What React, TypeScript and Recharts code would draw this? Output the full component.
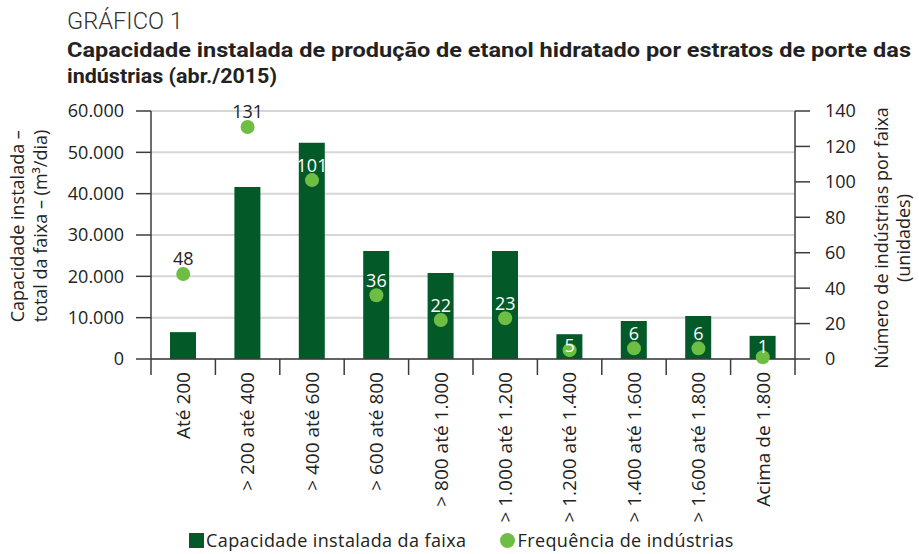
import React from "react";
import {
  ComposedChart,
  Bar,
  Line,
  XAxis,
  YAxis,
  CartesianGrid,
  LabelList,
} from "recharts";

const categories = [
  "Até 200",
  "> 200 até 400",
  "> 400 até 600",
  "> 600 até 800",
  "> 800 até 1.000",
  "> 1.000 até 1.200",
  "> 1.200 até 1.400",
  "> 1.400 até 1.600",
  "> 1.600 até 1.800",
  "Acima de 1.800",
];
const capacidade = [6500, 41600, 52300, 26100, 20800, 26100, 6000, 9200, 10400, 5600];
const frequencia = [48, 131, 101, 36, 22, 23, 5, 6, 6, 1];
const leftTicks = [0, 10000, 20000, 30000, 40000, 50000, 60000];
const rightTicks = [0, 20, 40, 60, 80, 100, 120, 140];

const data = categories.map((c, i) => ({
  faixa: c,
  capacidade: capacidade[i],
  frequencia: frequencia[i],
}));

const W = 919;
const H = 554;
const PLOT_TOP = 111;
const PLOT_H = 248;
const PLOT_LEFT = 151;
const PLOT_RIGHT = 795;
const BAND = (PLOT_RIGHT - PLOT_LEFT) / categories.length;
const LEFT_MAX = 60000;
const RIGHT_MAX = 140;
const FONT = "'Open Sans', 'Noto Sans', sans-serif";
const TITLE_FONT = "Roboto, 'Liberation Sans', sans-serif";
const DARK = "#035a28";
const LIGHT = "#6fbe44";
const AXIS = "#3c3c3c";
const TEXT = "#222";

const fmt = (v: number) => (v === 0 ? "0" : v.toLocaleString("de-DE"));

function XTick(props: any) {
  const { x, y, payload, index } = props;
  const last = index === categories.length - 1;
  return (
    <g>
      <line x1={x - BAND / 2} x2={x - BAND / 2} y1={y} y2={y + 16} stroke={AXIS} strokeWidth={1.5} />
      {last && (
        <line x1={x + BAND / 2} x2={x + BAND / 2} y1={y} y2={y + 16} stroke={AXIS} strokeWidth={1.5} />
      )}
      <text
        x={x}
        y={y + 13}
        transform={`rotate(-90, ${x}, ${y + 13})`}
        textAnchor="end"
        dy="0.36em"
        fontSize={19}
        fontFamily={FONT}
        fill={TEXT}
      >
        {payload.value}
      </text>
    </g>
  );
}

// label sits 15px above the dot; inside a bar it is kept below the bar top
function FreqLabel(props: any) {
  const { x, y, value, index } = props;
  const inside = capacidade[index] / LEFT_MAX > frequencia[index] / RIGHT_MAX;
  let ly = y - 15;
  if (inside) {
    const barTop = PLOT_TOP + PLOT_H * (1 - capacidade[index] / LEFT_MAX);
    ly = Math.max(ly, barTop + 11);
  }
  return (
    <text
      x={x}
      y={ly}
      dy="0.36em"
      textAnchor="middle"
      fontSize={18}
      fontFamily={FONT}
      fill={inside ? "#ffffff" : TEXT}
    >
      {value}
    </text>
  );
}

export default function App() {
  return (
    <div
      style={{
        position: "absolute",
        left: 0,
        top: 0,
        width: W,
        height: H,
        background: "#fff",
        fontFamily: FONT,
      }}
    >
      <svg width={W} height={95} style={{ position: "absolute", left: 0, top: 0 }}>
        <text
          x={67}
          y={29}
          fontSize={24}
          fontWeight={300}
          fill="#333"
          textLength={116}
          lengthAdjust="spacingAndGlyphs"
          fontFamily={TITLE_FONT}
        >
          GRÁFICO 1
        </text>
        <text
          x={67}
          y={57}
          fontSize={21}
          fontWeight={700}
          fill="#222"
          textLength={844}
          lengthAdjust="spacingAndGlyphs"
          fontFamily={TITLE_FONT}
        >
          Capacidade instalada de produção de etanol hidratado por estratos de porte das
        </text>
        <text
          x={67}
          y={83}
          fontSize={21}
          fontWeight={700}
          fill="#222"
          textLength={210}
          lengthAdjust="spacingAndGlyphs"
          fontFamily={TITLE_FONT}
        >
          indústrias (abr./2015)
        </text>
      </svg>

      <div style={{ position: "absolute", left: 0, top: 0 }}>
        <ComposedChart
          width={W}
          height={H}
          data={data}
          margin={{ top: PLOT_TOP, right: 0, bottom: 0, left: 0 }}
          barCategoryGap={0}
        >
          <CartesianGrid
            yAxisId="left"
            vertical={false}
            stroke="#d6d6d6"
            strokeWidth={2}
          />
          <XAxis
            dataKey="faixa"
            height={195}
            interval={0}
            tickLine={false}
            tickSize={0}
            tickMargin={0}
            axisLine={{ stroke: AXIS, strokeWidth: 1.5 }}
            tick={<XTick />}
          />
          <YAxis
            yAxisId="left"
            width={151}
            domain={[0, LEFT_MAX]}
            ticks={leftTicks}
            tickFormatter={fmt}
            tickSize={15}
            tickMargin={12}
            axisLine={{ stroke: AXIS, strokeWidth: 1.5 }}
            tickLine={{ stroke: AXIS, strokeWidth: 1.5 }}
            tick={{ fontSize: 18, fill: TEXT, fontFamily: FONT }}
          />
          <YAxis
            yAxisId="right"
            orientation="right"
            width={124}
            domain={[0, RIGHT_MAX]}
            ticks={rightTicks}
            tickSize={15}
            tickMargin={15}
            axisLine={{ stroke: AXIS, strokeWidth: 1.5 }}
            tickLine={{ stroke: AXIS, strokeWidth: 1.5 }}
            tick={{ fontSize: 18, fill: TEXT, fontFamily: FONT, textAnchor: "start" }}
          />
          <Bar
            yAxisId="left"
            dataKey="capacidade"
            fill={DARK}
            barSize={26}
            isAnimationActive={false}
          />
          <Line
            yAxisId="right"
            dataKey="frequencia"
            stroke="none"
            dot={{ r: 7, fill: LIGHT, stroke: "none" }}
            activeDot={false}
            isAnimationActive={false}
          >
            <LabelList dataKey="frequencia" content={<FreqLabel />} />
          </Line>
        </ComposedChart>
      </div>

      <div
        style={{
          position: "absolute",
          left: 29,
          top: 226,
          transform: "translate(-50%, -50%) rotate(-90deg)",
          whiteSpace: "nowrap",
          textAlign: "left",
          fontSize: 18,
          lineHeight: "23px",
          color: TEXT,
        }}
      >
        Capacidade instalada –
        <br />
        total da faixa – (m³/dia)
      </div>

      <div
        style={{
          position: "absolute",
          left: 892,
          top: 238,
          transform: "translate(-50%, -50%) rotate(-90deg)",
          whiteSpace: "nowrap",
          textAlign: "center",
          fontSize: 18,
          lineHeight: "22px",
          color: TEXT,
        }}
      >
        Número de indústrias por faixa
        <br />
        (unidades)
      </div>

      <div
        style={{
          position: "absolute",
          left: 189,
          top: 530,
          height: 20,
          display: "flex",
          alignItems: "center",
          fontSize: 18,
          letterSpacing: "0.4px",
          lineHeight: "20px",
          color: TEXT,
          whiteSpace: "nowrap",
        }}
      >
        <span style={{ display: "inline-block", width: 15, height: 15, background: DARK, marginRight: 2 }} />
        <span>Capacidade instalada da faixa</span>
        <span
          style={{
            display: "inline-block",
            width: 15,
            height: 15,
            borderRadius: "50%",
            background: LIGHT,
            marginLeft: 34,
            marginRight: 2,
          }}
        />
        <span>Frequência de indústrias</span>
      </div>
    </div>
  );
}
